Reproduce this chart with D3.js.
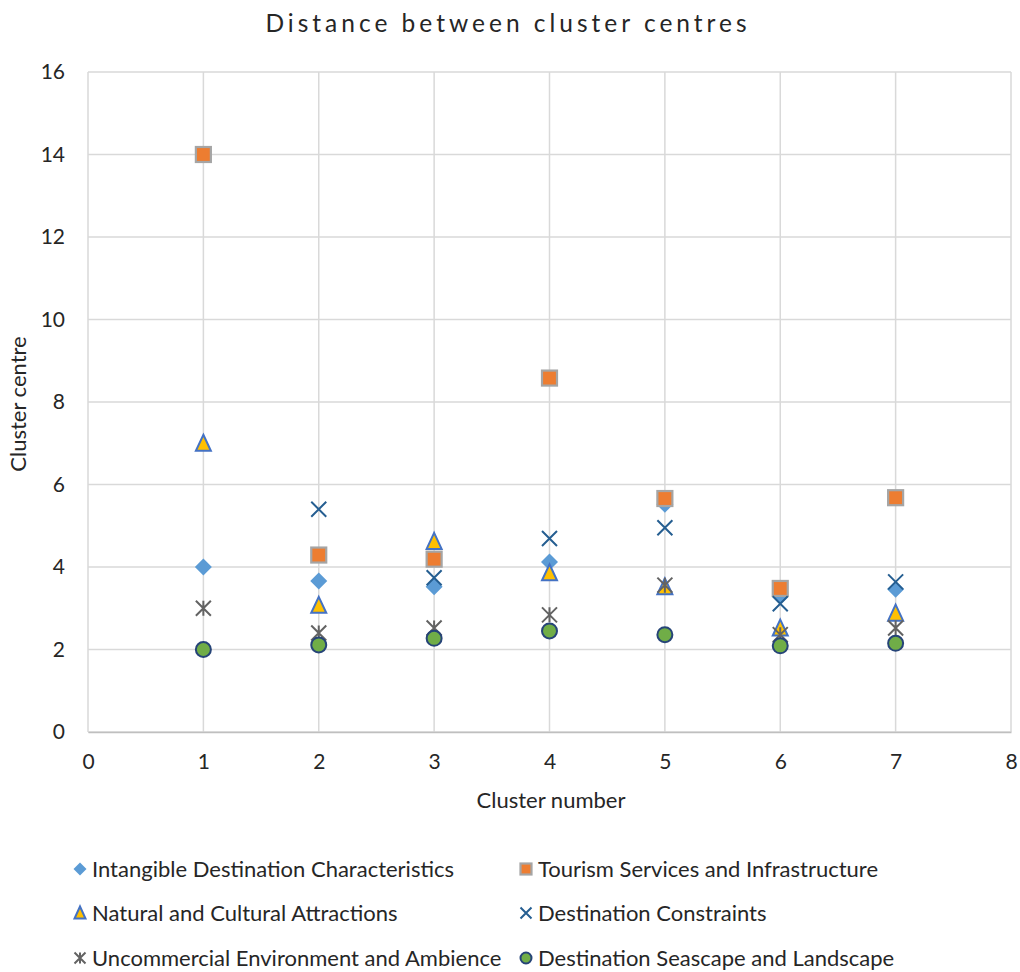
<!DOCTYPE html>
<html>
<head>
<meta charset="utf-8">
<script src="https://cdn.jsdelivr.net/npm/d3@7"></script>
<style>
  html, body { margin: 0; padding: 0; background: #fff; }
  svg { display: block; font-family: Lato, "Open Sans", sans-serif; }
</style>
</head>
<body>
<svg id="chart" width="1020" height="972"></svg>
<script>
// Cluster numbers on the x axis
const clusters = [1, 2, 3, 4, 5, 6, 7];

// Cluster centre per factor
const intangible   = [4.0, 3.66, 3.52, 4.12, 5.52, 3.3, 3.46];
const tourism      = [14.0, 4.29, 4.19, 8.58, 5.66, 3.48, 5.68];
const natural      = [7.0, 3.07, 4.62, 3.86, 3.52, 2.52, 2.88];
const constraints  = [null, 5.4, 3.74, 4.69, 4.95, 3.11, 3.64];
const uncommercial = [3.0, 2.4, 2.52, 2.84, 3.56, 2.36, 2.52];
const seascape     = [2.0, 2.11, 2.27, 2.45, 2.36, 2.09, 2.15];

const xTicks = [0, 1, 2, 3, 4, 5, 6, 7, 8];
const yTicks = [0, 2, 4, 6, 8, 10, 12, 14, 16];

const series = [
  { name: "Intangible Destination Characteristics", values: intangible, shape: "diamond" },
  { name: "Tourism Services and Infrastructure", values: tourism, shape: "square" },
  { name: "Natural and Cultural Attractions", values: natural, shape: "triangle" },
  { name: "Destination Constraints", values: constraints, shape: "x" },
  { name: "Uncommercial Environment and Ambience", values: uncommercial, shape: "star" },
  { name: "Destination Seascape and Landscape", values: seascape, shape: "circle" }
];

const svg = d3.select("#chart");
const margin = { left: 88, right: 1011, top: 72, bottom: 732 };

const x = d3.scaleLinear().domain([0, 8]).range([margin.left, margin.right]);
const y = d3.scaleLinear().domain([0, 16]).range([margin.bottom, margin.top]);

// Title
svg.append("text")
  .attr("x", 508).attr("y", 32)
  .attr("text-anchor", "middle")
  .attr("font-size", 24.5)
  .attr("letter-spacing", 4)
  .attr("fill", "#262626")
  .text("Distance between cluster centres");

// Gridlines
const grid = svg.append("g");
grid.selectAll("line.h").data(yTicks).join("line")
  .attr("x1", margin.left).attr("x2", margin.right)
  .attr("y1", d => y(d)).attr("y2", d => y(d))
  .attr("stroke", "#d9d9d9").attr("stroke-width", 1.5);
grid.selectAll("line.v").data(xTicks).join("line")
  .attr("y1", margin.top).attr("y2", margin.bottom)
  .attr("x1", d => x(d)).attr("x2", d => x(d))
  .attr("stroke", "#d9d9d9").attr("stroke-width", 1.5);

// Axes (labels only, lines come from the grid)
const xAxis = svg.append("g")
  .attr("transform", `translate(0,${margin.bottom})`)
  .call(d3.axisBottom(x).tickValues(xTicks).tickSize(0).tickPadding(22).tickFormat(d3.format("d")));
xAxis.select(".domain").attr("stroke", "#bfbfbf").attr("stroke-width", 1.5);
xAxis.selectAll("text").attr("font-size", 21).attr("fill", "#262626").attr("font-family", "Lato, sans-serif");

const yAxis = svg.append("g")
  .attr("transform", `translate(${margin.left},0)`)
  .call(d3.axisLeft(y).tickValues(yTicks).tickSize(0).tickPadding(23).tickFormat(d3.format("d")));
yAxis.select(".domain").remove();
yAxis.selectAll("text").attr("font-size", 21).attr("fill", "#262626").attr("font-family", "Lato, sans-serif");

// Axis titles
svg.append("text")
  .attr("x", 551).attr("y", 808)
  .attr("text-anchor", "middle")
  .attr("font-size", 22).attr("fill", "#262626")
  .text("Cluster number");
svg.append("text")
  .attr("transform", "translate(26,404) rotate(-90)")
  .attr("text-anchor", "middle")
  .attr("font-size", 22).attr("fill", "#262626")
  .text("Cluster centre");

// Marker drawing
function drawMarker(g, shape, s) {
  const h = s / 2;
  switch (shape) {
    case "diamond":
      g.append("path")
        .attr("d", `M0,${-h - 1}L${h + 1},0L0,${h + 1}L${-h - 1},0Z`)
        .attr("fill", "#5b9bd5");
      break;
    case "square":
      g.append("rect")
        .attr("x", -h).attr("y", -h).attr("width", s).attr("height", s)
        .attr("fill", "#ed7d31").attr("stroke", "#a5a5a5").attr("stroke-width", 2.2);
      break;
    case "triangle":
      g.append("path")
        .attr("d", `M0,${-h - 1}L${h},${h}L${-h},${h}Z`)
        .attr("fill", "#ffc000").attr("stroke", "#4472c4").attr("stroke-width", 2)
        .attr("stroke-linejoin", "miter");
      break;
    case "x":
      g.append("path")
        .attr("d", `M${-h},${-h}L${h},${h}M${h},${-h}L${-h},${h}`)
        .attr("stroke", "#255e91").attr("stroke-width", 2).attr("fill", "none");
      break;
    case "star":
      g.append("path")
        .attr("d", `M${-h},${-h}L${h},${h}M${h},${-h}L${-h},${h}M0,${-h}L0,${h}`)
        .attr("stroke", "#636363").attr("stroke-width", 2).attr("fill", "none");
      break;
    case "circle":
      g.append("circle")
        .attr("r", h)
        .attr("fill", "#70ad47").attr("stroke", "#264478").attr("stroke-width", 2);
      break;
  }
}

// Points
const pts = svg.append("g");
series.forEach(sr => {
  sr.values.forEach((v, i) => {
    if (v == null) return;
    const g = pts.append("g").attr("transform", `translate(${x(clusters[i])},${y(v)})`);
    drawMarker(g, sr.shape, 15);
  });
});

// Legend
const legendCols = [80, 526];
const legendRows = [869, 913, 958];
series.forEach((sr, i) => {
  const cx = legendCols[i % 2];
  const cy = legendRows[Math.floor(i / 2)];
  const g = svg.append("g").attr("transform", `translate(${cx},${cy})`);
  drawMarker(g, sr.shape, 11);
  svg.append("text")
    .attr("x", cx + 12).attr("y", cy + 8)
    .attr("font-size", 22).attr("fill", "#262626")
    .text(sr.name);
});
</script>
</body>
</html>
